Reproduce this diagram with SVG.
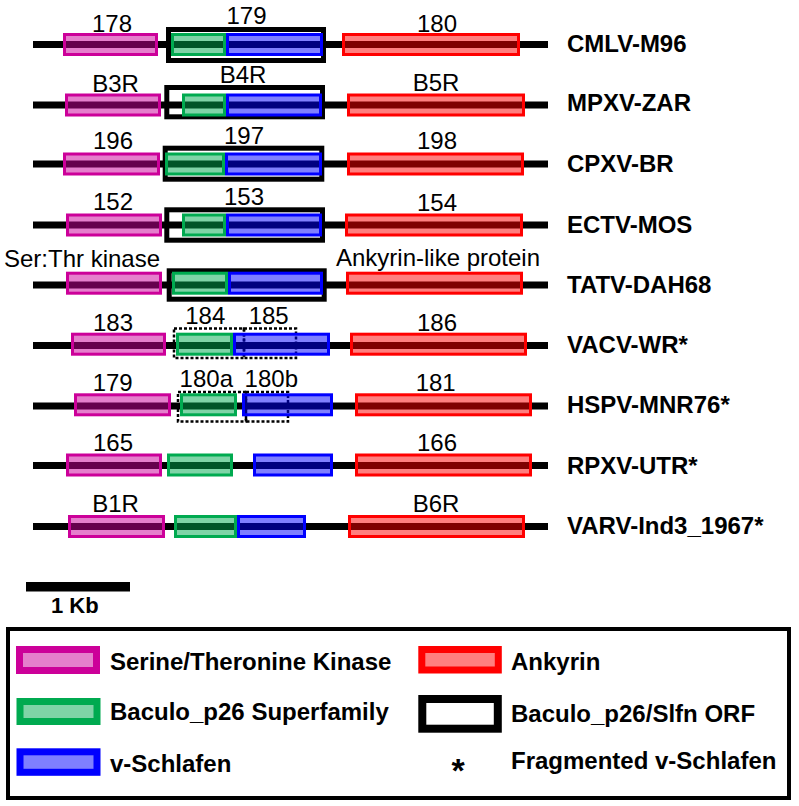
<svg xmlns="http://www.w3.org/2000/svg" width="799" height="806" viewBox="0 0 799 806">
<style>
.bb{stroke:#000;stroke-width:7;fill:none}
.g{stroke-width:3}
.pk{stroke:#cc0099;fill:rgba(204,0,153,0.5)}
.gr{stroke:#00aa50;fill:rgba(0,170,80,0.5)}
.bl{stroke:#0000ff;fill:rgba(0,0,255,0.5)}
.rd{stroke:#ff0000;fill:rgba(255,0,0,0.5)}
.orf{stroke:#000;stroke-width:5;fill:none}
.dot{stroke:#000;stroke-width:2.5;fill:none;stroke-dasharray:3 2}
.lb{font-family:"Liberation Sans",Arial,sans-serif;font-size:24px;fill:#000;text-anchor:middle}
.nm{font-family:"Liberation Sans",Arial,sans-serif;font-size:24px;font-weight:bold;fill:#000}
.lg{stroke-width:7}
</style>
<rect width="799" height="806" fill="#fff"/>

<g id="row-cmlv">
<line class="bb" x1="33" y1="44.5" x2="548" y2="44.5"/>
<rect class="orf" x="168.5" y="29.5" width="155" height="31"/>
<rect class="g pk" x="64.5" y="34.5" width="92" height="20"/>
<rect class="g gr" x="172.5" y="34.5" width="52" height="20"/>
<rect class="g bl" x="227.5" y="34.5" width="94" height="20"/>
<rect class="g rd" x="343.5" y="34.5" width="175" height="20"/>
<text class="lb" x="112" y="31.5">178</text>
<text class="lb" x="246.5" y="24">179</text>
<text class="lb" x="437" y="31.5">180</text>
<text class="nm" x="567" y="52">CMLV-M96</text>
</g>

<g id="row-mpxv">
<line class="bb" x1="33" y1="105" x2="548" y2="105"/>
<rect class="orf" x="166.8" y="87.5" width="155.7" height="29.3"/>
<rect class="g pk" x="66.5" y="95" width="93" height="20"/>
<rect class="g gr" x="183.5" y="95" width="41" height="20"/>
<rect class="g bl" x="227.5" y="95" width="93" height="20"/>
<rect class="g rd" x="348.5" y="95" width="175" height="20"/>
<text class="lb" x="115.5" y="91.7">B3R</text>
<text class="lb" x="243" y="83.3">B4R</text>
<text class="lb" x="436" y="90.7">B5R</text>
<text class="nm" x="567" y="111">MPXV-ZAR</text>
</g>

<g id="row-cpxv">
<line class="bb" x1="33" y1="164" x2="548" y2="164"/>
<rect class="orf" x="165.2" y="148.2" width="156.6" height="31"/>
<rect class="g pk" x="64.5" y="154" width="94" height="20"/>
<rect class="g gr" x="166.5" y="154" width="57" height="20"/>
<rect class="g bl" x="226.5" y="154" width="94" height="20"/>
<rect class="g rd" x="348.5" y="154" width="174" height="20"/>
<text class="lb" x="113" y="149.3">196</text>
<text class="lb" x="244" y="144">197</text>
<text class="lb" x="437" y="149.3">198</text>
<text class="nm" x="567" y="172.3">CPXV-BR</text>
</g>

<g id="row-ectv">
<line class="bb" x1="33" y1="225" x2="548" y2="225"/>
<rect class="orf" x="166.8" y="209.8" width="155.7" height="30.4"/>
<rect class="g pk" x="67.5" y="215" width="93" height="20"/>
<rect class="g gr" x="183.5" y="215" width="41" height="20"/>
<rect class="g bl" x="227.5" y="215" width="93" height="20"/>
<rect class="g rd" x="346.5" y="215" width="175" height="20"/>
<text class="lb" x="113" y="210">152</text>
<text class="lb" x="244" y="205">153</text>
<text class="lb" x="437" y="210.7">154</text>
<text class="nm" x="567" y="232.7">ECTV-MOS</text>
</g>

<g id="row-tatv">
<line class="bb" x1="33" y1="285" x2="548" y2="285"/>
<rect class="orf" x="169.2" y="270.8" width="155" height="28.4"/>
<rect class="g pk" x="67.5" y="273.2" width="93" height="20"/>
<rect class="g gr" x="173.5" y="273.2" width="53" height="20"/>
<rect class="g bl" x="229.5" y="273.2" width="92" height="20"/>
<rect class="g rd" x="347.5" y="273.2" width="174" height="20"/>
<text class="lb" x="82" y="266.5">Ser:Thr kinase</text>
<text class="lb" x="438" y="265.7">Ankyrin-like protein</text>
<text class="nm" x="567" y="293.3">TATV-DAH68</text>
</g>

<g id="row-vacv">
<line class="bb" x1="33" y1="345.5" x2="548" y2="345.5"/>
<rect class="dot" x="174" y="328.5" width="70" height="29.5"/>
<rect class="dot" x="244" y="328.5" width="52" height="29.5"/>
<rect class="g pk" x="72.5" y="334.2" width="92" height="20"/>
<rect class="g gr" x="177.5" y="334.2" width="54" height="20"/>
<rect class="g bl" x="234.5" y="334.2" width="94" height="20"/>
<rect class="g rd" x="351.5" y="334.2" width="174" height="20"/>
<text class="lb" x="113" y="331">183</text>
<text class="lb" x="205.3" y="324">184</text>
<text class="lb" x="268.7" y="324">185</text>
<text class="lb" x="437" y="331">186</text>
<text class="nm" x="567" y="352.7">VACV-WR*</text>
</g>

<g id="row-hspv">
<line class="bb" x1="33" y1="406" x2="548" y2="406"/>
<rect class="dot" x="178" y="392" width="68" height="29.5"/>
<rect class="dot" x="246" y="392" width="42" height="29.5"/>
<rect class="g pk" x="75.5" y="394.8" width="94" height="20"/>
<rect class="g gr" x="181.5" y="394.8" width="54" height="20"/>
<rect class="g bl" x="243.5" y="394.8" width="88" height="20"/>
<rect class="g rd" x="356.5" y="394.8" width="174" height="20"/>
<text class="lb" x="112.7" y="391">179</text>
<text class="lb" x="206.3" y="386.7">180a</text>
<text class="lb" x="271.3" y="386.7">180b</text>
<text class="lb" x="435.7" y="391">181</text>
<text class="nm" x="567" y="413.3">HSPV-MNR76*</text>
</g>

<g id="row-rpxv">
<line class="bb" x1="33" y1="465.5" x2="548" y2="465.5"/>
<rect class="g pk" x="67.5" y="455" width="93" height="20"/>
<rect class="g gr" x="168.5" y="455" width="63" height="20"/>
<rect class="g bl" x="254.5" y="455" width="77" height="20"/>
<rect class="g rd" x="356.5" y="455" width="174" height="20"/>
<text class="lb" x="113" y="451">165</text>
<text class="lb" x="437" y="451">166</text>
<text class="nm" x="567" y="473.5">RPXV-UTR*</text>
</g>

<g id="row-varv">
<line class="bb" x1="33" y1="526.5" x2="548" y2="526.5"/>
<rect class="g pk" x="69.5" y="516.5" width="94" height="20"/>
<rect class="g gr" x="175.5" y="516.5" width="60" height="20"/>
<rect class="g bl" x="238.5" y="516.5" width="66" height="20"/>
<rect class="g rd" x="349.5" y="516.5" width="174" height="20"/>
<text class="lb" x="115.5" y="511.7">B1R</text>
<text class="lb" x="436" y="512">B6R</text>
<text class="nm" x="567" y="534">VARV-Ind3_1967*</text>
</g>

<g id="scale-bar">
<rect x="26" y="582" width="104" height="9.5" fill="#000"/>
<text class="nm" x="51" y="613" style="font-size:22px">1 Kb</text>
</g>

<g id="legend">
<rect x="8" y="629" width="781" height="169" fill="none" stroke="#000" stroke-width="4"/>
<rect class="lg pk" x="19.5" y="649.5" width="77" height="21"/>
<text class="nm" x="110" y="670">Serine/Theronine Kinase</text>
<rect class="lg gr" x="20" y="701.5" width="77" height="20"/>
<text class="nm" x="110" y="720">Baculo_p26 Superfamily</text>
<rect class="lg bl" x="20" y="751.8" width="77" height="20.5"/>
<text class="nm" x="110" y="771.7">v-Schlafen</text>
<rect class="lg rd" x="421.8" y="649.5" width="76.5" height="20.5"/>
<text class="nm" x="511" y="670">Ankyrin</text>
<rect x="422.3" y="699" width="75.5" height="29.7" fill="#fff" stroke="#000" stroke-width="8"/>
<text class="nm" x="511" y="721.5">Baculo_p26/Slfn ORF</text>
<text class="nm" x="458" y="782" style="font-size:34px;text-anchor:middle">*</text>
<text class="nm" x="511" y="769">Fragmented v-Schlafen</text>
</g>
</svg>
